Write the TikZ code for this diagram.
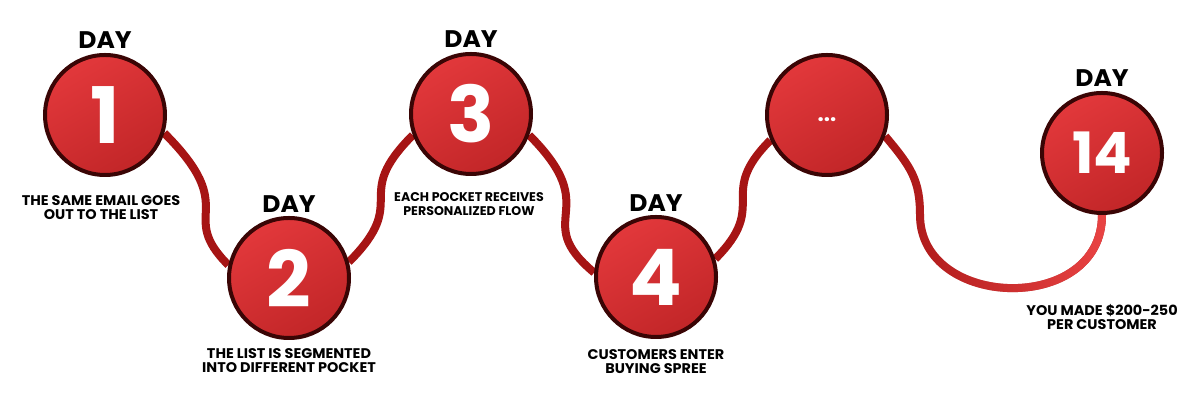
\documentclass[tikz,border=0pt]{standalone}
\usepackage{fontspec}
\setmainfont{Poppins}
\usetikzlibrary{positioning,fadings,backgrounds}
\definecolor{dayred}{RGB}{226,56,59}
\definecolor{dayredd}{RGB}{194,38,40}
\definecolor{rim}{RGB}{58,5,5}
\definecolor{track}{RGB}{166,20,20}
\definecolor{trackhi}{RGB}{234,68,68}
\tikzfading[name=fade in east, left color=transparent!100, right color=transparent!0]

\begin{document}
\begin{tikzpicture}[
  x=1pt, y=1pt,
  badge/.style={circle, draw=rim, line width=4pt, minimum size=120pt, inner sep=0pt,
               top color=dayred, bottom color=dayredd, shading angle=30,
               text=white, font=\bfseries\fontsize{78}{78}\selectfont},
  day/.style={font=\bfseries\fontsize{24}{24}\selectfont\addfontfeature{FakeStretch=1.04}, inner sep=0pt},
  note/.style={font=\bfseries\fontsize{14}{14}\selectfont\addfontfeature{FakeStretch=1.03},
               align=center, inner sep=0pt},
  link/.style={draw=track, line width=8pt},
]
\useasboundingbox (0,0) rectangle (1200,411);

% ---- day badges ----
\node[badge] (d1) at (105,296) {1};
\node[badge] (d2) at (289,133) {2};
\node[badge] (d3) at (471,297) {3};
\node[badge] (d4) at (656,134) {4};
\node[badge, font=\bfseries\fontsize{22}{22}\selectfont, text height=14pt] (dn) at (827,296) {...};
\node[badge, font=\bfseries\fontsize{57}{57}\selectfont] (d14) at (1102,258) {14};

% ---- DAY headings ----
\node[day, above=4pt of d1] (day1) {DAY};
\node[day, above=3pt of d2] (day2) {DAY};
\node[day, above=4pt of d3] (day3) {DAY};
\node[day, above=3pt of d4] (day4) {DAY};
\node[day, above=4pt of d14] (day14) {DAY};

% ---- captions ----
\node[note, below=18pt of d1, xshift=-4pt] (n1) {THE SAME EMAIL GOES\\OUT TO THE LIST};
\node[note, below=8pt of d2] (n2) {THE LIST IS SEGMENTED\\INTO DIFFERENT POCKET};
\node[note, below=16pt of d3, xshift=-2pt, font=\bfseries\fontsize{12.6}{14}\selectfont]
  (n3) {EACH POCKET RECEIVES\\PERSONALIZED FLOW};
\node[note, below=10pt of d4] (n4) {CUSTOMERS ENTER\\BUYING SPREE};
\node[note, below=89pt of d14] (n14) {YOU MADE \$200-250\\PER CUSTOMER};

% ---- track between the badges ----
\coordinate (dip) at (920,196);
\begin{scope}[on background layer]
  \draw[link] (d1.-17) .. controls +(-45:110) and +(135:74) .. (d2.168);
  \draw[link] (d2.15) .. controls +(45:89) and +(225:89) .. (d3.200);
  \draw[link] (d3.-20) .. controls +(-45:108) and +(140:85) .. (d4.176);
  \draw[link] (d4.17) .. controls +(45:78) and +(225:78) .. (dn.204);
  \draw[link] (dn.-20) .. controls +(-50:40) and +(90:35) .. (dip)
     .. controls +(-90:95) and +(-90:100) .. (d14.south);
  \draw[link, draw=trackhi, path fading=fade in east] (dn.-20) .. controls +(-50:40) and +(90:35) .. (dip)
     .. controls +(-90:95) and +(-90:100) .. (d14.south);
\end{scope}

\end{tikzpicture}
\end{document}
